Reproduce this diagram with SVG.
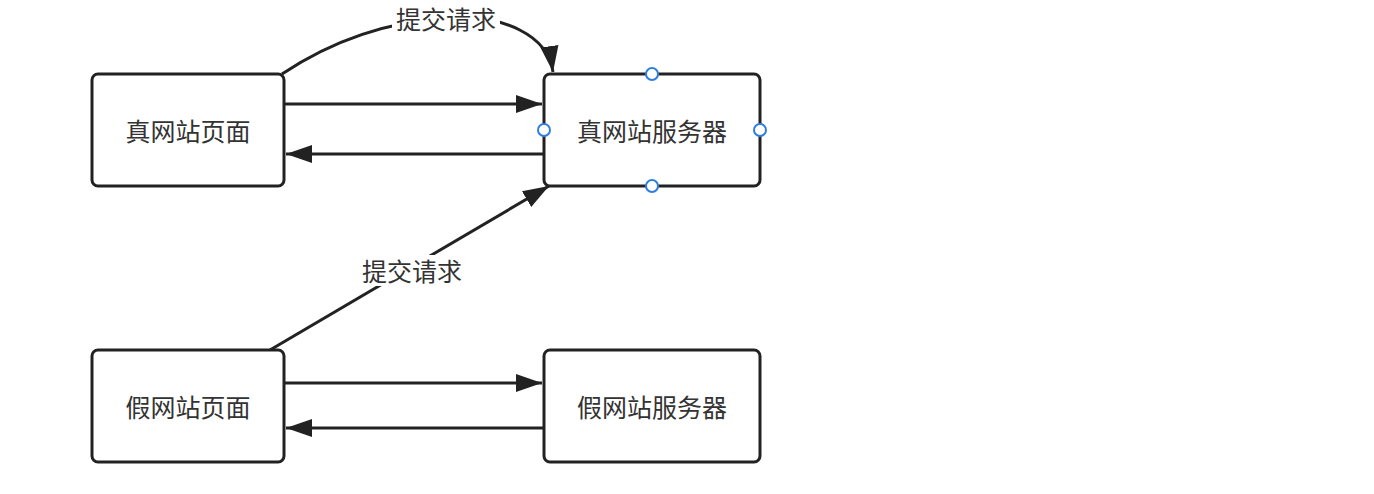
<svg xmlns="http://www.w3.org/2000/svg" width="1374" height="494" viewBox="0 0 1374 494">
<defs>
<marker id="ah2" viewBox="0 0 10 10" refX="10" refY="5" markerWidth="26" markerHeight="26" markerUnits="userSpaceOnUse" orient="auto">
<path d="M0,1.5 L10,5 L0,8.5 z" fill="#222"/>
</marker>
<style>
.box{fill:#fff;stroke:#222;stroke-width:3}
.t{font-family:"Noto Sans CJK SC","Liberation Sans",sans-serif;font-size:25px;fill:#333;text-anchor:middle;dominant-baseline:central}
.c{fill:none;stroke:#222;stroke-width:3}
.h{fill:#fff;stroke:#2f7de1;stroke-width:2}
.lbg{fill:#fff}
</style>
</defs>
<rect width="1374" height="494" fill="#fff"/>
<g id="connectors">
<path class="c" d="M285,104 L542,104" marker-end="url(#ah2)"/>
<path class="c" d="M543,154 L286,154" marker-end="url(#ah2)"/>
<path class="c" d="M285,383 L542,383" marker-end="url(#ah2)"/>
<path class="c" d="M543,428 L286,428" marker-end="url(#ah2)"/>
<path class="c" d="M282,74 C330,42 385,22 446,18 C505,14 548,36 553,72" marker-end="url(#ah2)"/>
<path class="c" d="M270,350 L549,186" stroke="#2b2326" marker-end="url(#ah2)"/>
<rect class="lbg" x="392" y="3" width="108" height="30"/>
<text class="t" x="446" y="18">提交请求</text>
<rect class="lbg" x="358" y="255" width="108" height="31"/>
<text class="t" x="412" y="270">提交请求</text>
</g>
<g id="real-page">
<rect class="box" x="92" y="74" width="192" height="112" rx="6"/>
<text class="t" x="188" y="130">真网站页面</text>
</g>
<g id="real-server">
<rect class="box" x="544" y="74" width="216" height="112" rx="6"/>
<text class="t" x="652" y="130">真网站服务器</text>
<circle class="h" cx="652" cy="74" r="6"/>
<circle class="h" cx="544" cy="130" r="6"/>
<circle class="h" cx="760" cy="130" r="6"/>
<circle class="h" cx="652" cy="186" r="6"/>
</g>
<g id="fake-page">
<rect class="box" x="92" y="350" width="192" height="112" rx="6"/>
<text class="t" x="188" y="406">假网站页面</text>
</g>
<g id="fake-server">
<rect class="box" x="544" y="350" width="216" height="112" rx="6"/>
<text class="t" x="652" y="406">假网站服务器</text>
</g>
</svg>
